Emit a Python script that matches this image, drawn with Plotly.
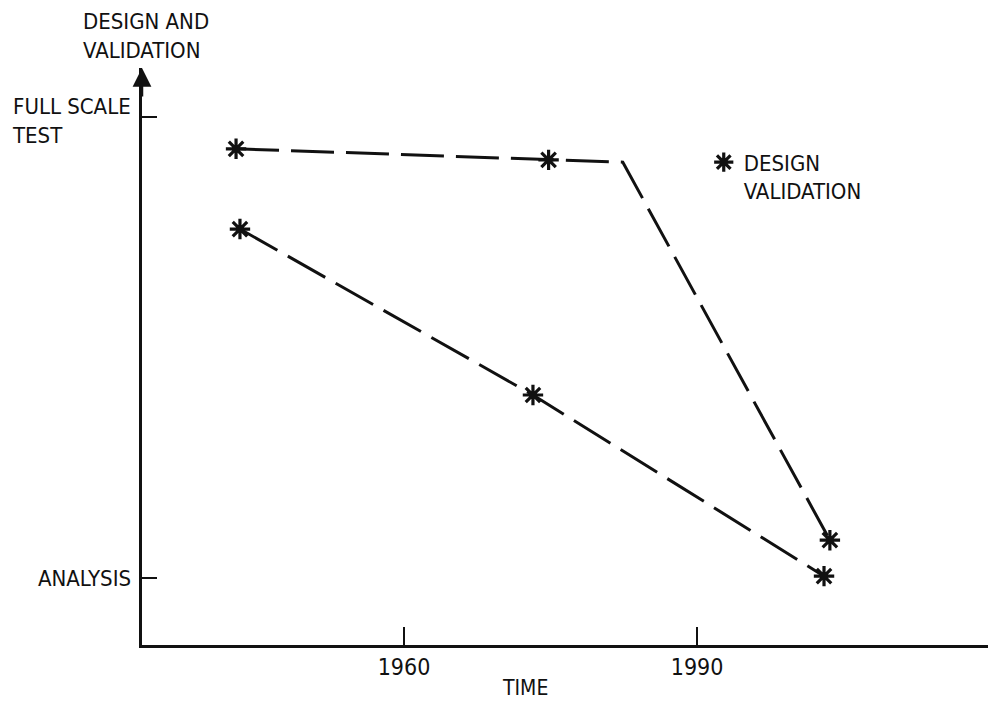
import plotly.graph_objects as go

# ---- data ----
upper_years = [1942.8, 1974.8, 1982.4, 2003.6]
upper_level = [0.931, 0.907, 0.902, 0.082]
upper_marked = [True, True, False, True]

lower_years = [1943.2, 1973.2, 2003.0]
lower_level = [0.757, 0.397, 0.004]

x_tick_vals = [1960, 1990]
x_tick_text = ["1960", "1990"]

y_tick_vals = [1, 0]
y_tick_text = ["FULL SCALE<br>TEST", "ANALYSIS"]
y_tick_align = ["left", "right"]
y_tick_shift = [-4, 0]

x_title = "TIME"
y_title = "DESIGN AND<br>VALIDATION"
legend_name = "DESIGN<br>VALIDATION"

x_range = [1933.17, 2019.79]
y_range = [-0.1453, 1.1063]

FONT = "DejaVu Sans Condensed, Liberation Sans Narrow, DejaVu Sans, sans-serif"
INK = "#111111"
DASH = "43px,12px"
MSIZE = 17

fig = go.Figure()

# dashed paths
fig.add_trace(go.Scatter(x=upper_years, y=upper_level, mode="lines",
                         line=dict(color=INK, width=3, dash=DASH),
                         showlegend=False, hoverinfo="skip"))
fig.add_trace(go.Scatter(x=lower_years, y=lower_level, mode="lines",
                         line=dict(color=INK, width=3, dash=DASH),
                         showlegend=False, hoverinfo="skip"))

# design validation markers
mx = [x for x, m in zip(upper_years, upper_marked) if m] + lower_years
my = [y for y, m in zip(upper_level, upper_marked) if m] + lower_level
fig.add_trace(go.Scatter(x=mx, y=my, mode="markers", name=legend_name,
                         marker=dict(symbol="asterisk-open", size=MSIZE,
                                     line=dict(color=INK, width=3.2), color=INK),
                         showlegend=True))

annotations = []
for v, t, a, s in zip(y_tick_vals, y_tick_text, y_tick_align, y_tick_shift):
    annotations.append(dict(x=0, xref="paper", y=v, yref="y", text=t,
                            xanchor="right", yanchor="middle", align=a,
                            xshift=-9, yshift=s, showarrow=False,
                            font=dict(family=FONT, size=22, color=INK)))

# y-axis title above the arrow
annotations.append(dict(x=0, xref="paper", y=1, yref="paper", text=y_title,
                        xanchor="center", yanchor="bottom", align="left",
                        xshift=4, yshift=3, showarrow=False,
                        font=dict(family=FONT, size=22, color=INK)))
# x-axis title
annotations.append(dict(x=1972.4, xref="x", y=0, yref="paper", text=x_title,
                        xanchor="center", yanchor="middle", yshift=-43,
                        borderpad=0, showarrow=False,
                        font=dict(family=FONT, size=21, color=INK)))
# arrow head on y-axis
annotations.append(dict(x=x_range[0], xref="x", y=y_range[1], yref="y",
                        ax=0, ay=30, text="", showarrow=True,
                        arrowhead=2, arrowsize=1.5, arrowwidth=2.5,
                        arrowcolor=INK, standoff=0))

fig.update_layout(
    width=988, height=702,
    margin=dict(l=142, r=0, t=68, b=57),
    paper_bgcolor="white", plot_bgcolor="white",
    font=dict(family=FONT, size=22, color=INK),
    annotations=annotations,
    legend=dict(x=0.664, y=0.873, xanchor="left", yanchor="top",
                valign="top", bgcolor="rgba(0,0,0,0)",
                font=dict(family=FONT, size=22, color=INK)),
    xaxis=dict(range=x_range, showgrid=False, zeroline=False,
               showline=True, linecolor=INK, linewidth=2.5,
               ticks="inside", ticklen=18, tickwidth=2, tickcolor=INK,
               tickvals=x_tick_vals, ticktext=x_tick_text,
               tickfont=dict(family=FONT, size=23, color=INK)),
    yaxis=dict(range=y_range, showgrid=False, zeroline=False,
               showline=True, linecolor=INK, linewidth=2.5,
               ticks="inside", ticklen=15, tickwidth=2, tickcolor=INK,
               tickvals=y_tick_vals, showticklabels=False),
)

fig.write_html("out.html", config={"displayModeBar": False},
               post_script="document.body.style.margin='0';document.body.style.padding='0';")
